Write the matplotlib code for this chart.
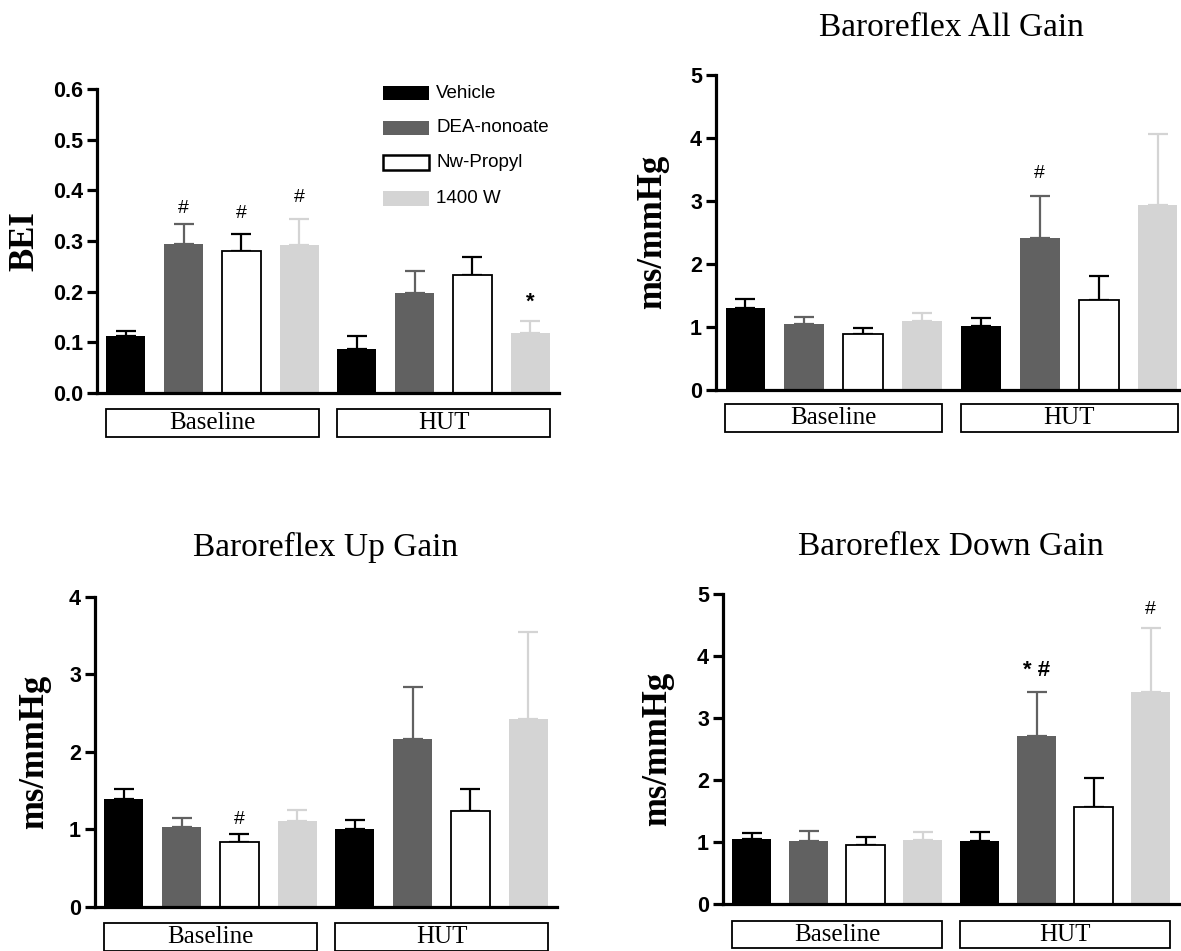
import matplotlib
matplotlib.use('Agg')
import matplotlib.pyplot as plt
from matplotlib.patches import Rectangle
import numpy as np

# ---------------- data ----------------
groups = ['Baseline', 'HUT']
treatments = ['Vehicle', 'DEA-nonoate', 'Nw-Propyl', '1400 W']
bar_colors = ['#000000', '#616161', '#ffffff', '#d4d4d4']
err_colors = ['#000000', '#616161', '#000000', '#d4d4d4']

# order: Baseline (Vehicle, DEA, Nw, 1400W), HUT (Vehicle, DEA, Nw, 1400W)
bei_mean = [0.112, 0.295, 0.280, 0.293, 0.087, 0.197, 0.232, 0.118]
bei_top = [0.122, 0.333, 0.313, 0.343, 0.113, 0.240, 0.269, 0.143]
all_mean = [1.30, 1.04, 0.88, 1.085, 1.01, 2.415, 1.42, 2.94]
all_top = [1.44, 1.16, 0.98, 1.21, 1.14, 3.07, 1.81, 4.06]
up_mean = [1.39, 1.03, 0.83, 1.11, 1.00, 2.17, 1.24, 2.42]
up_top = [1.52, 1.14, 0.94, 1.25, 1.125, 2.84, 1.52, 3.55]
down_mean = [1.05, 1.02, 0.95, 1.04, 1.02, 2.72, 1.575, 3.42]
down_top = [1.145, 1.19, 1.08, 1.17, 1.17, 3.43, 2.04, 4.46]

bei_marks = [(1, '#', 0.365), (2, '#', 0.354), (3, '#', 0.385), (7, '*', 0.180)]
all_marks = [(5, '#', 3.44)]
up_marks = [(2, '#', 1.12)]
down_marks = [(5, '* #', 3.77), (7, '#', 4.76)]

W, H = 1181, 951
SANS = 'Liberation Sans'
SERIF = 'Liberation Serif'

fig = plt.figure(figsize=(W / 100, H / 100), dpi=100)


def px_rect(l, t, r, b):
    return [l / W, 1 - b / H, (r - l) / W, (b - t) / H]


panels = [
    dict(rect=(97, 89, 559, 393), mean=bei_mean, top=bei_top, ylim=0.6,
         ticks=np.arange(0, 0.61, 0.1), fmt='%.1f', marks=bei_marks,
         ylabel='BEI', ylab_xy=(25, 241), title=None, title_y=None, gap=16, bh=28),
    dict(rect=(716, 75, 1187, 389.5), mean=all_mean, top=all_top, ylim=5,
         ticks=np.arange(0, 6, 1), fmt='%d', marks=all_marks,
         ylabel='ms/mmHg', ylab_xy=(653, 232), title='Baroreflex All Gain', title_y=28,
         gap=14.5, bh=28),
    dict(rect=(95, 597, 557, 906.7), mean=up_mean, top=up_top, ylim=4,
         ticks=np.arange(0, 5, 1), fmt='%d', marks=up_marks,
         ylabel='ms/mmHg', ylab_xy=(35, 752), title='Baroreflex Up Gain', title_y=547,
         gap=16, bh=28),
    dict(rect=(723, 594.3, 1179, 904.3), mean=down_mean, top=down_top, ylim=5,
         ticks=np.arange(0, 6, 1), fmt='%d', marks=down_marks,
         ylabel='ms/mmHg', ylab_xy=(658, 749), title='Baroreflex Down Gain', title_y=547,
         gap=17, bh=27),
]

x = np.arange(len(groups) * len(treatments))
bw = 0.675

for p in panels:
    l, t, r, b = p['rect']
    hpx = b - t
    ax = fig.add_axes(px_rect(l, t, r, b))
    cols = [bar_colors[i % 4] for i in x]
    ecols = [err_colors[i % 4] for i in x]
    edges = ['#000000' if i % 4 == 2 else c for i, c in zip(x, cols)]
    lws = [1.3 if i % 4 == 2 else 0 for i in x]
    ax.bar(x, p['mean'], width=bw, color=cols, edgecolor=edges, linewidth=lws, zorder=2)
    for xi, m, tp, ec in zip(x, p['mean'], p['top'], ecols):
        ax.errorbar([xi], [m], yerr=[[0], [tp - m]], fmt='none', ecolor=ec,
                    elinewidth=1.6, capsize=7, capthick=1.6, zorder=1.5)
    ax.set_xlim(-0.5, 7.5)
    ax.set_ylim(0, p['ylim'])
    ax.set_yticks(p['ticks'])
    ax.set_yticklabels([p['fmt'] % v for v in p['ticks']],
                       fontfamily=SANS, fontweight='bold', fontsize=15.5)
    ax.set_xticks([])
    for s in ['top', 'right']:
        ax.spines[s].set_visible(False)
    for s in ['left', 'bottom']:
        ax.spines[s].set_linewidth(2.3)
        ax.spines[s].set_zorder(3)
    ax.tick_params(axis='y', length=7, width=2.3, pad=3)

    # significance marks
    for bi, txt, yv in p['marks']:
        bold = '*' in txt
        ax.text(x[bi], yv, txt, ha='center', va='center', fontfamily=SANS,
                fontsize=16 if bold else 14, fontweight='bold' if bold else 'normal')

    # group boxes
    trans = ax.get_xaxis_transform()
    for gi, g in enumerate(groups):
        x0 = x[gi * 4] - 0.34
        x1 = x[gi * 4 + 3] + 0.34
        y1 = -p['gap'] / hpx
        y0 = -(p['gap'] + p['bh']) / hpx
        ax.add_patch(Rectangle((x0, y0), x1 - x0, y1 - y0, transform=trans,
                               facecolor='white', edgecolor='black', linewidth=1.3,
                               clip_on=False))
        ax.text((x0 + x1) / 2, (y0 + y1) / 2, g, transform=trans, ha='center',
                va='center', fontfamily=SERIF, fontsize=18)

    fig.text(p['ylab_xy'][0] / W, 1 - p['ylab_xy'][1] / H, p['ylabel'], rotation=90,
             ha='center', va='center', fontfamily=SERIF, fontweight='bold', fontsize=25)
    if p['title']:
        fig.text(((l + r) / 2) / W, 1 - p['title_y'] / H, p['title'], ha='center',
                 va='center', fontfamily=SERIF, fontsize=24)

# legend (top-left panel)
leg_rows_y = [93, 128, 162.5, 198.5]
for name, c, yc in zip(treatments, bar_colors, leg_rows_y):
    ec = '#000000' if c == '#ffffff' else c
    fig.add_artist(Rectangle((383 / W, 1 - (yc + 7) / H), 46 / W, 14 / H,
                             transform=fig.transFigure, facecolor=c, edgecolor=ec,
                             linewidth=1.8 if c == '#ffffff' else 0))
    fig.text(436 / W, 1 - yc / H, name, ha='left', va='center', fontfamily=SANS,
             fontsize=13.5)

fig.savefig('out.png', dpi=100)
